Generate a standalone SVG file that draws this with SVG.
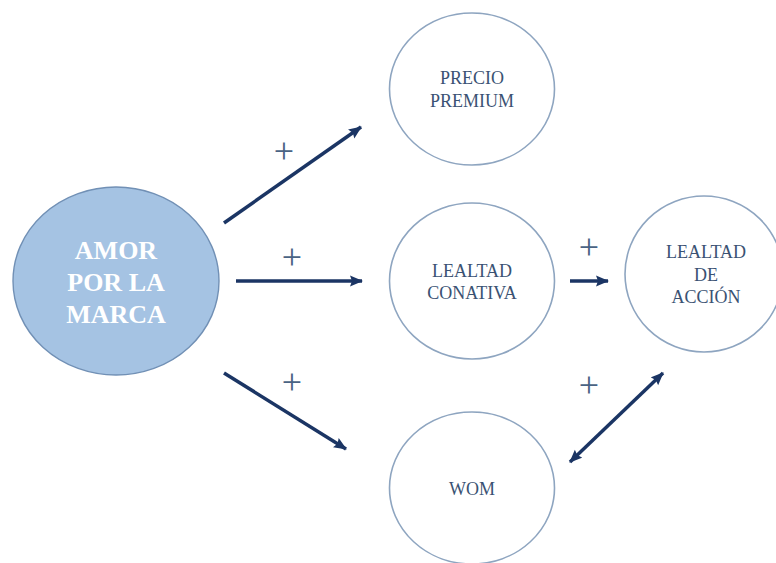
<svg xmlns="http://www.w3.org/2000/svg" width="776" height="563" viewBox="0 0 776 563">
<style>
.node{fill:#ffffff;stroke:#8ea5c0;stroke-width:1.6}
.main{fill:#a5c3e3;stroke:#7190b5;stroke-width:1.4}
.lbl{font-family:"Liberation Serif","Times New Roman",serif;font-size:18px;fill:#3a5273;text-anchor:middle}
.mlbl{font-family:"Liberation Serif","Times New Roman",serif;font-size:26px;font-weight:bold;fill:#ffffff;text-anchor:middle}
.plus{font-family:"Liberation Serif","Times New Roman",serif;font-size:36px;fill:#4a6384;text-anchor:middle}
.conn{stroke:#1b3564;stroke-width:3.5;fill:none}
</style>
<defs>
<marker id="ah" viewBox="0 0 13 12" refX="12" refY="6" markerWidth="13" markerHeight="12" markerUnits="userSpaceOnUse" orient="auto-start-reverse">
<path d="M0,0.5 L13,6 L0,11.5 L2,6 Z" fill="#1b3564"/>
</marker>
</defs>
<rect width="776" height="563" fill="#ffffff"/>
<g id="amor">
<ellipse class="main" cx="116" cy="281" rx="103" ry="94"/>
<text class="mlbl" x="116" y="259">AMOR</text>
<text class="mlbl" x="116" y="291">POR LA</text>
<text class="mlbl" x="116" y="323">MARCA</text>
</g>
<g id="precio">
<ellipse class="node" cx="472" cy="89" rx="82.5" ry="76"/>
<text class="lbl" x="472" y="84">PRECIO</text>
<text class="lbl" x="472" y="107">PREMIUM</text>
</g>
<g id="conativa">
<ellipse class="node" cx="472" cy="281" rx="82.5" ry="78"/>
<text class="lbl" x="472" y="277">LEALTAD</text>
<text class="lbl" x="472" y="299">CONATIVA</text>
</g>
<g id="wom">
<ellipse class="node" cx="472" cy="488" rx="82.5" ry="76"/>
<text class="lbl" x="472" y="495">WOM</text>
</g>
<g id="accion">
<ellipse class="node" cx="704" cy="274" rx="79" ry="78"/>
<text class="lbl" x="706" y="258">LEALTAD</text>
<text class="lbl" x="706" y="281">DE</text>
<text class="lbl" x="706" y="303">ACCIÓN</text>
</g>
<g id="connectors">
<line class="conn" x1="224" y1="223" x2="361" y2="127" marker-end="url(#ah)"/>
<line class="conn" x1="236" y1="281" x2="362" y2="281" marker-end="url(#ah)"/>
<line class="conn" x1="224" y1="373" x2="346" y2="449" marker-end="url(#ah)"/>
<line class="conn" x1="570" y1="281" x2="608" y2="281" marker-end="url(#ah)"/>
<line class="conn" x1="570" y1="462" x2="663" y2="373" marker-start="url(#ah)" marker-end="url(#ah)"/>
<text class="plus" x="284" y="163">+</text>
<text class="plus" x="292" y="269">+</text>
<text class="plus" x="292" y="394">+</text>
<text class="plus" x="589" y="259">+</text>
<text class="plus" x="589" y="397">+</text>
</g>
</svg>
